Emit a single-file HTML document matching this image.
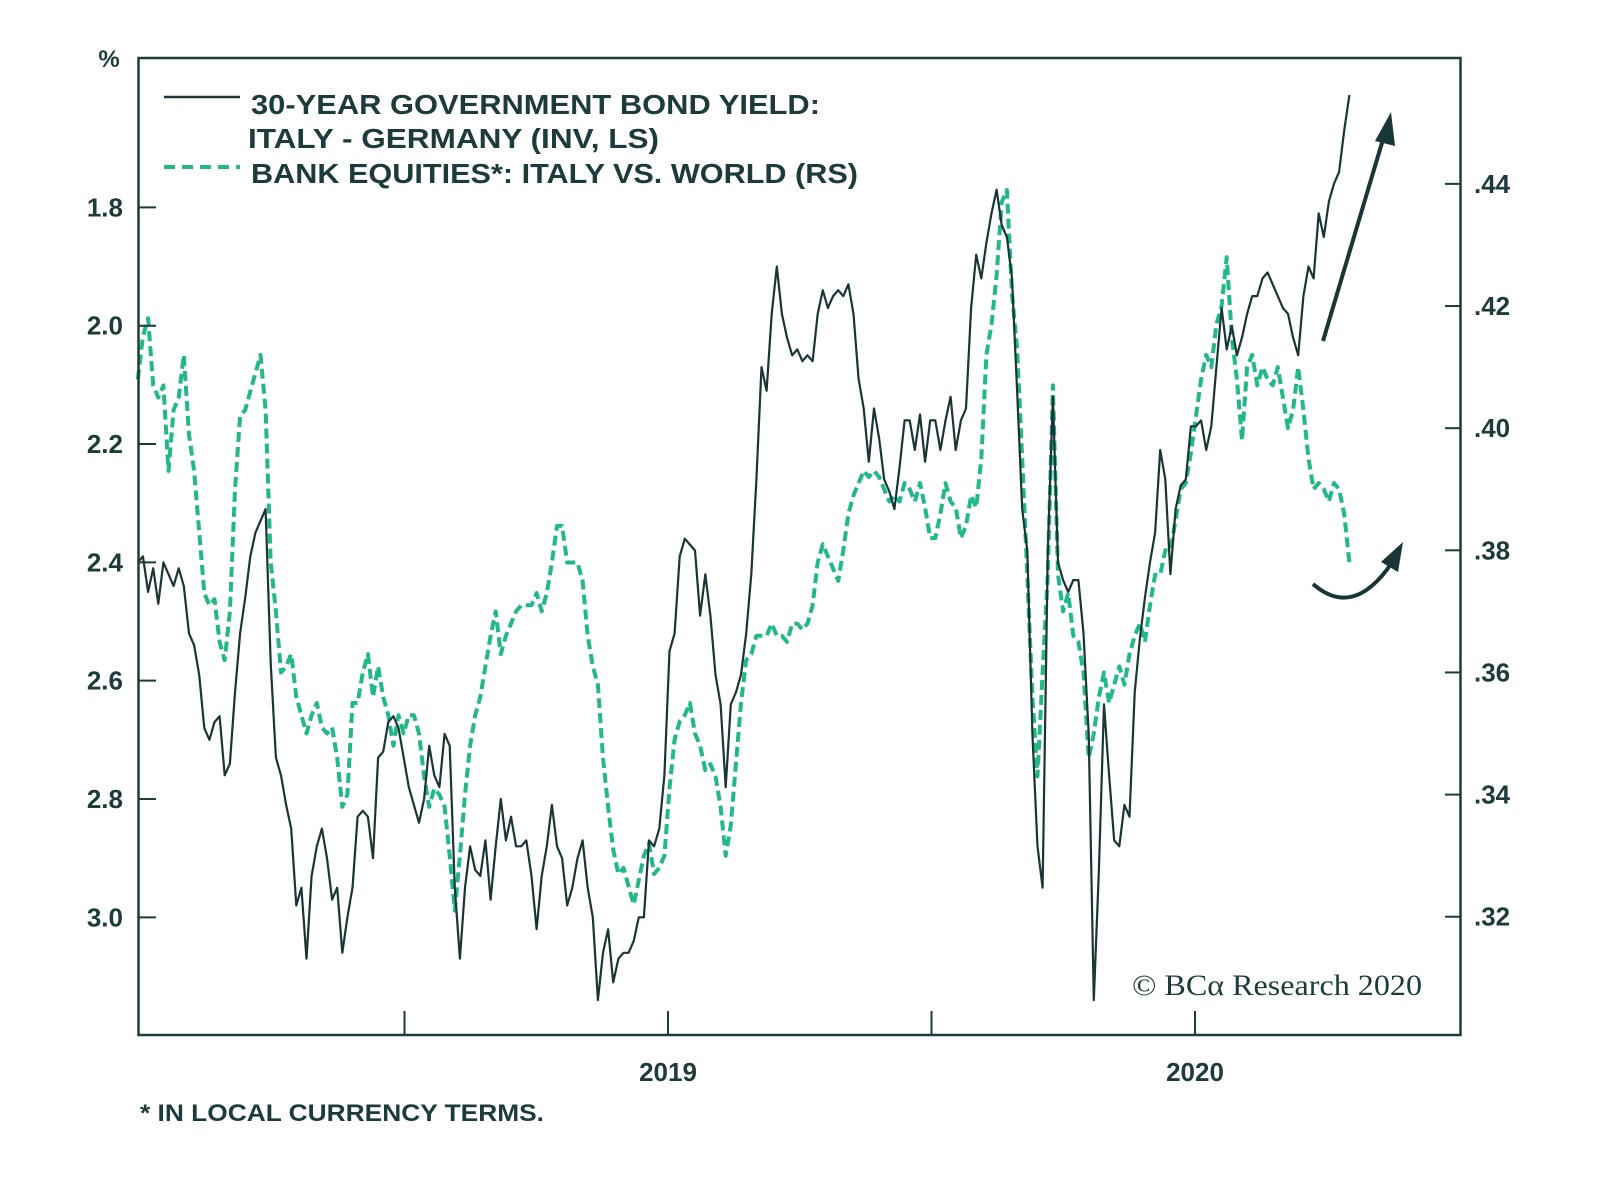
<!DOCTYPE html>
<html><head><meta charset="utf-8"><style>
html,body{margin:0;padding:0;background:#fff;}
svg text{font-family:"Liberation Sans",sans-serif;}
</style></head><body>
<svg width="1600" height="1186" viewBox="0 0 1600 1186" xmlns="http://www.w3.org/2000/svg" id="chart">
<rect x="0" y="0" width="1600" height="1186" fill="#fff"/>
<g id="plot"></g>
<rect x="138.5" y="58" width="1322" height="977" fill="none" stroke="#1d3b3a" stroke-width="2.5"/>
<text x="109" y="67" font-size="24" font-weight="bold" fill="#1d3b3a" text-anchor="middle">%</text>
<g>
<line x1="164" y1="97" x2="240" y2="97" stroke="#1a3535" stroke-width="2.5"/>
<text x="251" y="114" font-size="28" font-weight="bold" fill="#1d3b3a" textLength="569" lengthAdjust="spacingAndGlyphs">30-YEAR GOVERNMENT BOND YIELD:</text>
<text x="248" y="148" font-size="28" font-weight="bold" fill="#1d3b3a" textLength="411" lengthAdjust="spacingAndGlyphs">ITALY - GERMANY (INV, LS)</text>
<line x1="164" y1="167" x2="240" y2="167" stroke="#22b88a" stroke-width="4" stroke-dasharray="11,7"/>
<text x="251" y="183" font-size="28" font-weight="bold" fill="#1d3b3a" textLength="607" lengthAdjust="spacingAndGlyphs">BANK EQUITIES*: ITALY VS. WORLD (RS)</text>
</g>
<text x="1132" y="995" font-size="30" fill="#1d3b3a" textLength="290" lengthAdjust="spacingAndGlyphs" style="font-family:'Liberation Serif',serif">© BCα Research 2020</text>
<text x="140" y="1121" font-size="24" font-weight="bold" fill="#1d3b3a" textLength="404" lengthAdjust="spacingAndGlyphs">* IN LOCAL CURRENCY TERMS.</text>
<g>
<line x1="1323" y1="341" x2="1384" y2="136" stroke="#1a3535" stroke-width="4"/>
<polygon points="1391,112 1375,141 1395,146" fill="#1a3535"/>
<path d="M1313,584 Q1353,619 1391,564" fill="none" stroke="#1a3535" stroke-width="4"/>
<polygon points="1403,542 1381,562 1398,572" fill="#1a3535"/>
</g>
</svg>
<script>
const startYear = 2017.994;
const stepYears = 0.0097;
const yieldSpread = [2.40,2.39,2.45,2.41,2.47,2.40,2.42,2.44,2.41,2.44,2.52,2.54,2.59,2.68,2.70,2.67,2.66,2.76,2.74,2.62,2.52,2.46,2.39,2.35,2.33,2.31,2.57,2.73,2.76,2.81,2.85,2.98,2.95,3.07,2.93,2.88,2.85,2.90,2.97,2.95,3.06,3.00,2.95,2.83,2.82,2.83,2.90,2.73,2.72,2.67,2.66,2.68,2.73,2.78,2.81,2.84,2.80,2.71,2.76,2.78,2.69,2.71,2.95,3.07,2.95,2.88,2.92,2.93,2.87,2.97,2.88,2.80,2.87,2.83,2.88,2.88,2.87,2.93,3.02,2.93,2.88,2.81,2.88,2.90,2.98,2.95,2.90,2.87,2.95,3.00,3.14,3.06,3.02,3.11,3.07,3.06,3.06,3.04,3.00,3.00,2.87,2.88,2.85,2.76,2.55,2.52,2.39,2.36,2.37,2.38,2.49,2.42,2.49,2.59,2.64,2.78,2.64,2.62,2.59,2.52,2.42,2.26,2.07,2.11,1.98,1.90,1.98,2.02,2.05,2.04,2.06,2.05,2.06,1.98,1.94,1.97,1.95,1.94,1.95,1.93,1.98,2.09,2.14,2.23,2.14,2.19,2.26,2.28,2.31,2.24,2.16,2.16,2.21,2.15,2.23,2.16,2.16,2.21,2.16,2.12,2.21,2.16,2.14,1.97,1.88,1.92,1.86,1.81,1.77,1.83,1.85,1.92,2.11,2.31,2.38,2.69,2.88,2.95,2.38,2.12,2.40,2.43,2.45,2.43,2.43,2.52,2.69,3.14,2.92,2.64,2.76,2.87,2.88,2.81,2.83,2.62,2.53,2.46,2.40,2.35,2.21,2.26,2.42,2.31,2.27,2.26,2.17,2.17,2.16,2.21,2.17,2.07,1.97,2.04,2.00,2.05,2.02,1.98,1.95,1.95,1.92,1.91,1.93,1.95,1.97,1.98,2.02,2.05,1.95,1.90,1.92,1.81,1.85,1.79,1.76,1.74,1.67,1.61];
const bankRatio = [.408,.415,.418,.407,.405,.407,.393,.403,.405,.412,.399,.393,.383,.373,.371,.372,.365,.362,.370,.390,.402,.403,.406,.409,.412,.403,.378,.370,.360,.361,.363,.356,.353,.350,.353,.355,.351,.350,.351,.346,.338,.340,.355,.355,.360,.363,.356,.361,.356,.353,.348,.353,.350,.353,.353,.350,.343,.338,.341,.340,.338,.330,.321,.330,.340,.348,.353,.356,.361,.366,.370,.363,.366,.368,.370,.371,.371,.371,.373,.370,.373,.378,.384,.384,.378,.378,.378,.375,.366,.361,.358,.346,.338,.331,.327,.328,.325,.322,.326,.330,.332,.327,.328,.330,.341,.349,.352,.353,.355,.350,.348,.344,.345,.343,.338,.330,.335,.345,.355,.362,.363,.366,.366,.366,.368,.366,.366,.365,.368,.368,.367,.368,.371,.378,.381,.379,.377,.375,.380,.386,.389,.391,.393,.392,.393,.392,.390,.388,.389,.388,.391,.390,.388,.391,.387,.382,.382,.386,.391,.388,.387,.382,.384,.389,.387,.395,.412,.417,.425,.437,.439,.422,.413,.395,.376,.356,.343,.360,.376,.407,.376,.370,.373,.366,.365,.360,.346,.350,.356,.360,.355,.358,.361,.358,.363,.366,.368,.365,.371,.376,.376,.380,.380,.385,.390,.391,.396,.402,.408,.412,.410,.417,.420,.428,.415,.408,.398,.410,.412,.407,.410,.408,.407,.410,.405,.400,.403,.410,.403,.395,.390,.391,.390,.388,.391,.390,.386,.378];
const leftTicks = [1.8,2.0,2.2,2.4,2.6,2.8,3.0];
const leftTickLabels = ["1.8","2.0","2.2","2.4","2.6","2.8","3.0"];
const rightTicks = [.44,.42,.40,.38,.36,.34,.32];
const rightTickLabels = [".44",".42",".40",".38",".36",".34",".32"];
const xTicks = [2018.5,2019,2019.5,2020];
const xLabelYears = [2019,2020];
const xLabels = ["2019","2020"];

const NS = "http://www.w3.org/2000/svg";
function xScale(yr){ return 141 + (yr - 2018) * 527; }
function yLeft(v){ return 207.4 + (v - 1.8) * 591.6; }
function yRight(v){ return 183.9 + (0.44 - v) * 6107; }
function mk(tag, attrs){ const e = document.createElementNS(NS, tag); for (const k in attrs) e.setAttribute(k, attrs[k]); return e; }
const svg = document.getElementById('chart');
const plot = document.getElementById('plot');

leftTicks.forEach((t,i)=>{
  const y = yLeft(t);
  const l = mk('line',{x1:138,x2:156,y1:y,y2:y,stroke:'#1d3b3a','stroke-width':2});
  
  
  svg.appendChild(l);
  const tx = mk('text',{x:123,y:y+9,'font-size':26,'font-weight':'bold',fill:'#1d3b3a','text-anchor':'end'});
  tx.textContent = leftTickLabels[i];
  
  
  svg.appendChild(tx);
});
rightTicks.forEach((t,i)=>{
  const y = yRight(t);
  const l = mk('line',{x1:1445,x2:1461,y1:y,y2:y,stroke:'#1d3b3a','stroke-width':2});
  
  
  svg.appendChild(l);
  const tx = mk('text',{x:1474,y:y+9,'font-size':26,'font-weight':'bold',fill:'#1d3b3a'});
  tx.textContent = rightTickLabels[i];
  
  
  svg.appendChild(tx);
});
xTicks.forEach(t=>{
  const x = xScale(t);
  const l = mk('line',{x1:x,x2:x,y1:1011,y2:1035,stroke:'#1d3b3a','stroke-width':2});
  
  
  svg.appendChild(l);
});
xLabelYears.forEach((t,i)=>{
  const tx = mk('text',{x:xScale(t),y:1081,'font-size':26,'font-weight':'bold',fill:'#1d3b3a','text-anchor':'middle'});
  tx.textContent = xLabels[i];
  
  
  svg.appendChild(tx);
});

function pts(arr, ys){ return arr.map((v,i)=> xScale(startYear + i*stepYears).toFixed(1) + ',' + ys(v).toFixed(1)).join(' '); }
const g = mk('polyline',{points:pts(bankRatio,yRight),fill:'none',stroke:'#22b88a','stroke-width':4,'stroke-dasharray':'10,5','stroke-linejoin':'round'});


plot.appendChild(g);
const b = mk('polyline',{points:pts(yieldSpread,yLeft),fill:'none',stroke:'#1a3535','stroke-width':2.2,'stroke-linejoin':'round'});


plot.appendChild(b);
</script>
</body></html>
